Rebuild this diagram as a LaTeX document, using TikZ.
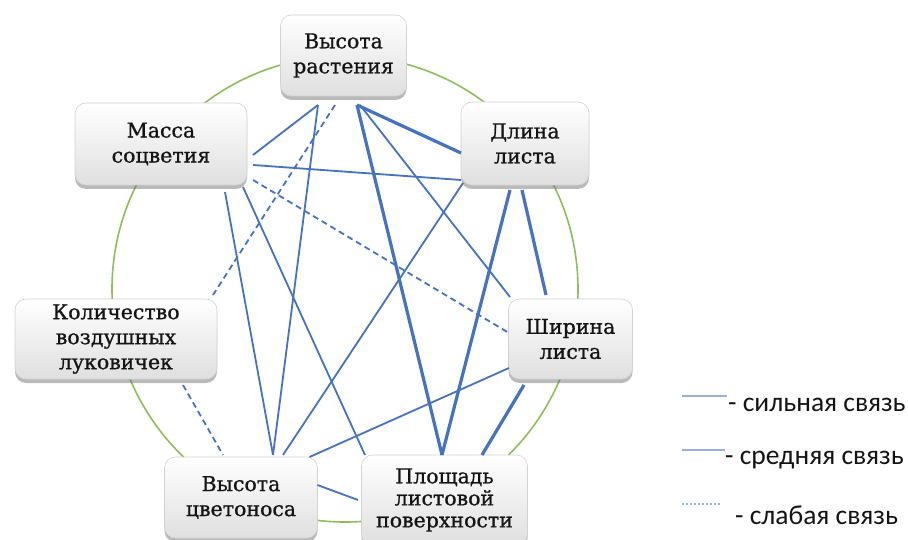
\documentclass[tikz,border=0pt]{standalone}
\usepackage{fontspec}
\setmainfont{DejaVu Serif}
\newfontfamily\boxfont{DejaVu Serif}[BoldFont={DejaVu Serif}, BoldFeatures={FakeBold=0.9}]
\newfontfamily\legfont{Carlito}
\usetikzlibrary{shadows,calc}
\definecolor{linkblue}{HTML}{4472C4}
\definecolor{ringgreen}{HTML}{8DBE5A}
\definecolor{txt}{HTML}{141414}
\tikzset{
  box/.style={draw=gray!35, line width=0.6pt, rounded corners=11pt,
    top color=white, bottom color=gray!25,
    drop shadow={shadow xshift=0pt, shadow yshift=-4pt, opacity=0.45, fill=black!60},
    align=center, inner sep=0pt, text=txt,
    font=\boxfont\bfseries\fontsize{20.5}{25}\selectfont},
  strong/.style={draw=linkblue, line width=3.2pt},
  medium/.style={draw=linkblue, line width=1.8pt},
  weak/.style={draw=linkblue, line width=1.8pt, dash pattern=on 6pt off 4pt},
  legtext/.style={anchor=west, inner sep=0pt, text=txt, font=\legfont\fontsize{27.5}{30}\selectfont},
}
\begin{document}
\begin{tikzpicture}[x=1pt,y=-1pt]
\useasboundingbox (0,0) rectangle (908,540);
\clip (0,0) rectangle (908,540);
% ring
\draw[ringgreen, line width=1.6pt] (345,289) circle[radius=233pt];
% nodes
\node[box, minimum width=126pt, minimum height=81pt] (vr) at (343.5,55.5) {Высота\\растения};
\node[box, minimum width=172pt, minimum height=82pt] (ms) at (161,144) {Масса\\соцветия};
\node[box, minimum width=128pt, minimum height=83pt] (dl) at (525,143.5) {Длина\\листа};
\node[box, minimum width=202pt, minimum height=80pt] (kv) at (116,339) {Количество\\воздушных\\луковичек};
\node[box, minimum width=124pt, minimum height=80pt] (sh) at (570.5,339) {Ширина\\листа};
\node[box, minimum width=153pt, minimum height=81pt] (vc) at (241,497.5) {Высота\\цветоноса};
\node[box, minimum width=166pt, minimum height=90pt, font=\boxfont\bfseries\fontsize{20.5}{22}\selectfont] (pl) at (444.5,500) {Площадь\\листовой\\поверхности};
% connectors
\draw[strong] ($(vr)+(13.5,49.5)$) -- ($(dl)+(-64,9.5)$);
\draw[strong] ($(vr)+(13.5,49.5)$) -- ($(pl)+(-2.5,-45)$);
\draw[medium] ($(vr)+(16.5,49.5)$) -- ($(sh)+(-60.5,-42)$);
\draw[medium] ($(vr)+(-25.5,49.5)$) -- ($(ms)+(92,11)$);
\draw[medium] ($(vr)+(-25.5,49.5)$) -- ($(vc)+(32,-42.5)$);
\draw[weak] ($(vr)+(-8.5,49.5)$) -- ($(kv)+(97,-44)$);
\draw[medium] ($(ms)+(92,21)$) -- ($(dl)+(-64,36.5)$);
\draw[weak] ($(ms)+(92,36)$) -- ($(sh)+(-61.5,-6)$);
\draw[medium] ($(ms)+(64,48)$) -- ($(vc)+(32,-42.5)$);
\draw[medium] ($(ms)+(82,43)$) -- ($(pl)+(-79.5,-45)$);
\draw[medium] ($(dl)+(-62,39.5)$) -- ($(vc)+(42,-42.5)$);
\draw[strong] ($(dl)+(-15,46.5)$) -- ($(pl)+(-2.5,-45)$);
\draw[strong] ($(dl)+(-3,46.5)$) -- ($(sh)+(-24.5,-44)$);
\draw[strong] ($(sh)+(-46.5,46)$) -- ($(pl)+(37.5,-45)$);
\draw[medium] ($(sh)+(-61.5,29)$) -- ($(vc)+(68.5,-40.5)$);
\draw[medium] ($(vc)+(76.5,-12.5)$) -- ($(pl)+(-86.5,0)$);
\draw[weak] ($(kv)+(67,46)$) -- ($(vc)+(-18,-42.5)$);
% legend
\coordinate (l1a) at (682,396); \coordinate (l1b) at (727,396);
\coordinate (l2a) at (682,450); \coordinate (l2b) at (725,450);
\coordinate (l3a) at (682,504); \coordinate (l3b) at (722,504);
\draw[draw=linkblue!55, line width=2.2pt] (l1a) -- (l1b);
\draw[draw=linkblue!55, line width=1.4pt] (l2a) -- (l2b);
\draw[draw=linkblue!55, line width=1.4pt, dash pattern=on 2pt off 2pt] (l3a) -- (l3b);
\node[legtext] (t1) at (728,405) {- сильная связь};
\node[legtext] (t2) at (725,460) {- средняя связь};
\node[legtext] (t3) at (735,515) {- слабая связь};
\end{tikzpicture}
\end{document}
